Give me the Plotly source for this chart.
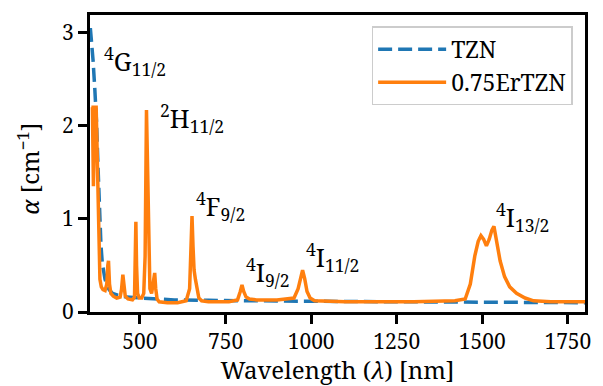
import plotly.graph_objects as go

# TZN (undoped) absorption
tzn_wl = [355, 359, 363, 368, 373, 378, 382, 386, 390, 394, 398, 403, 410, 420, 435, 460, 500, 550, 600, 700,
          800, 900, 1000, 1250, 1500, 1800]
tzn_a = [3.05, 2.9, 2.7, 2.4, 2.05, 1.5, 1.0, 0.72, 0.52, 0.42, 0.35, 0.29, 0.24, 0.2, 0.18, 0.16, 0.15, 0.14, 0.13, 0.125,
         0.12, 0.118, 0.115, 0.11, 0.105, 0.1]

# 0.75ErTZN absorption
er_wl = [358, 361, 364, 366, 368, 372, 375, 377, 380, 383, 387, 392, 398, 403, 406, 408, 411, 415, 422, 432, 442, 446,
         450, 453, 457, 465, 478, 484, 486, 488, 490, 493, 498, 505, 511, 515, 519, 522, 525, 529, 534, 539, 543, 546,
         550, 556, 580, 610, 635, 645, 649, 652, 655, 658, 662, 667, 672, 680, 700, 760, 785, 793, 798, 803, 810, 820,
         840, 900, 950, 962, 970, 975, 981, 988, 997, 1010, 1100, 1300, 1420, 1450, 1465, 1478, 1488, 1496, 1504, 1512,
         1520, 1528, 1534, 1542, 1552, 1565, 1580, 1600, 1625, 1650, 1700, 1800]
er_a = [2.2, 2.2, 1.35, 2.15, 2.2, 2.2, 1.6, 1.1, 0.6, 0.35, 0.27, 0.24, 0.23, 0.3, 0.5, 0.55, 0.3, 0.2, 0.17, 0.15, 0.16, 0.24,
        0.4, 0.28, 0.17, 0.14, 0.13, 0.16, 0.5, 0.97, 0.5, 0.2, 0.15, 0.15, 0.2, 0.6, 2.17, 1.6, 0.6, 0.25, 0.2, 0.3, 0.42, 0.25,
        0.14, 0.11, 0.1, 0.1, 0.12, 0.25, 0.8, 1.03, 0.7, 0.45, 0.35, 0.22, 0.15, 0.12, 0.11, 0.11, 0.13, 0.22, 0.29, 0.22,
        0.16, 0.14, 0.13, 0.13, 0.15, 0.25, 0.38, 0.45, 0.36, 0.22, 0.15, 0.12, 0.11, 0.11, 0.12, 0.14, 0.3, 0.6, 0.76, 0.82,
        0.78, 0.71, 0.78, 0.88, 0.92, 0.75, 0.55, 0.38, 0.27, 0.2, 0.15, 0.12, 0.11, 0.11]

# Transition labels (text, wavelength, alpha)
lab_text = ["<sup>4</sup>G<sub>11/2</sub>", "<sup>2</sup>H<sub>11/2</sub>", "<sup>4</sup>F<sub>9/2</sub>",
            "<sup>4</sup>I<sub>9/2</sub>", "<sup>4</sup>I<sub>11/2</sub>", "<sup>4</sup>I<sub>13/2</sub>"]
lab_x = [484, 651, 735, 873, 1062, 1617]
lab_y = [2.70, 2.08, 1.14, 0.43, 0.59, 1.02]

x_ticks = [500, 750, 1000, 1250, 1500, 1750]
y_ticks = [0, 1, 2, 3]

FONT = "Noto Serif"

fig = go.Figure()
fig.add_trace(go.Scatter(x=tzn_wl, y=tzn_a, mode="lines", name="TZN",
                         line=dict(color="#1f77b4", width=3.5, dash="14px,6px")))
fig.add_trace(go.Scatter(x=er_wl, y=er_a, mode="lines", name="0.75ErTZN",
                         line=dict(color="#ff7f0e", width=3.5)))

for t, x, y in zip(lab_text, lab_x, lab_y):
    fig.add_annotation(x=x, y=y, text=t, showarrow=False, xref="x", yref="y",
                       font=dict(family=FONT, size=25, color="black"))

# y-axis title placed as a rotated annotation for precise positioning
fig.add_annotation(x=-0.123, y=0.482, xref="paper", yref="paper", text="<i>α</i> [cm<sup>−1</sup>]",
                   textangle=-90, showarrow=False, xanchor="center", yanchor="middle",
                   font=dict(family=FONT, size=24, color="black"))

axis_common = dict(showline=True, linecolor="black", linewidth=3, mirror=True, ticks="outside",
                   ticklen=9, tickwidth=2.5, tickcolor="black", showgrid=False, zeroline=False,
                   tickfont=dict(family=FONT, size=21, color="black"))

fig.update_xaxes(range=[354, 1800], tickvals=x_ticks,
                 title=dict(text="Wavelength (<i>λ</i>) [nm]", font=dict(family=FONT, size=24, color="black"),
                            standoff=7), **axis_common)
fig.update_yaxes(range=[0, 3.19], tickvals=y_ticks, **axis_common)

fig.update_layout(
    width=603, height=386,
    margin=dict(l=90, r=18, t=15, b=74, autoexpand=False),
    plot_bgcolor="white", paper_bgcolor="white",
    font=dict(family=FONT, size=21, color="black"),
    legend=dict(x=0.975, y=0.962, xanchor="right", yanchor="top", bgcolor="white",
                bordercolor="#cccccc", borderwidth=1.5, itemwidth=68,
                font=dict(family=FONT, size=23, color="black")),
)

fig.write_html("out.html", post_script="document.body.style.margin='0';",
               config={"displayModeBar": False})
